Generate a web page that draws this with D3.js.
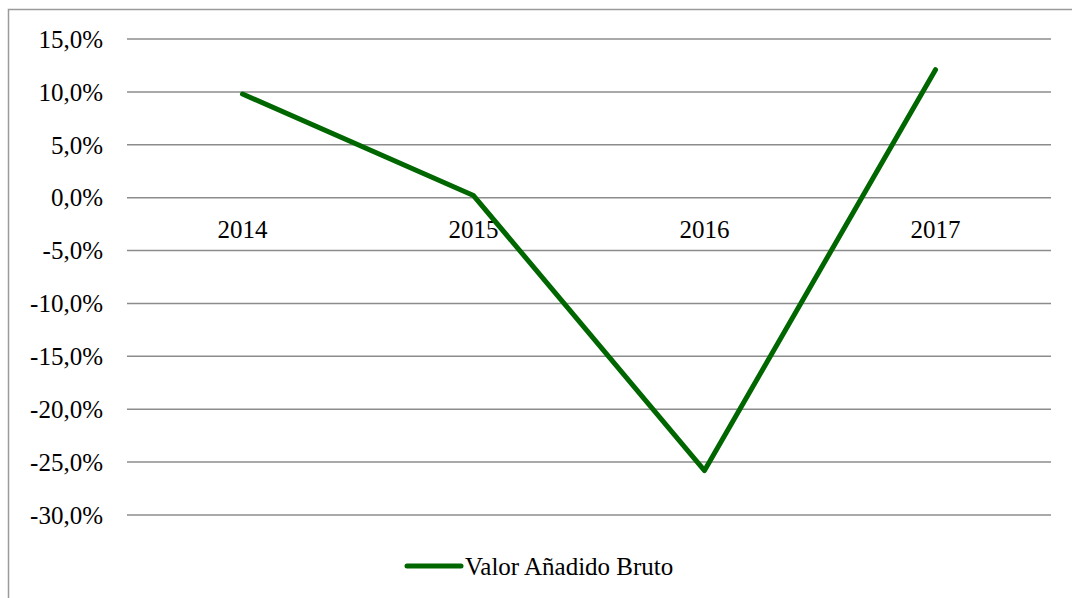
<!DOCTYPE html>
<html>
<head>
<meta charset="utf-8">
<script src="https://d3js.org/d3.v7.min.js"></script>
<style>
  body { margin: 0; background: #fff; }
</style>
</head>
<body>
<svg width="1072" height="598"></svg>
<script>
// data
var years = ["2014", "2015", "2016", "2017"];
var vab = [9.8, 0.2, -25.8, 12.1];
var yTicks = [15, 10, 5, 0, -5, -10, -15, -20, -25, -30];
var seriesName = "Valor Añadido Bruto";

var serif = "'Liberation Serif'";
var fs = 25;

var svg = d3.select("svg");

// outer chart frame
svg.append("rect")
    .attr("x", 8.5).attr("y", 9.5)
    .attr("width", 1100).attr("height", 700)
    .attr("fill", "none")
    .attr("stroke", "#9a9a9a")
    .attr("stroke-width", 1.5);

var x = d3.scaleBand()
    .domain(years)
    .range([127, 1051]);

var y = d3.scaleLinear()
    .domain([-30, 15])
    .range([515, 39]);

var fmt = function(d) { return d.toFixed(1).replace(".", ",") + "%"; };

// gridlines
svg.append("g")
  .selectAll("line")
  .data(yTicks)
  .enter().append("line")
    .attr("x1", x.range()[0])
    .attr("x2", x.range()[1])
    .attr("y1", function(d) { return y(d); })
    .attr("y2", function(d) { return y(d); })
    .attr("stroke", "#8c8c8c")
    .attr("stroke-width", 1.5);

// y labels
svg.append("g")
  .selectAll("text")
  .data(yTicks)
  .enter().append("text")
    .attr("x", 103)
    .attr("y", function(d) { return y(d); })
    .attr("dy", "0.35em")
    .attr("text-anchor", "end")
    .style("font-family", serif)
    .style("font-size", fs + "px")
    .text(fmt);

// category labels sit just under the zero line
svg.append("g")
  .selectAll("text")
  .data(years)
  .enter().append("text")
    .attr("x", function(d) { return x(d) + x.bandwidth() / 2; })
    .attr("y", y(0) + 40)
    .attr("text-anchor", "middle")
    .style("font-family", serif)
    .style("font-size", fs + "px")
    .text(function(d) { return d; });

var line = d3.line()
    .x(function(d, i) { return x(years[i]) + x.bandwidth() / 2; })
    .y(function(d) { return y(d); });

svg.append("path")
    .datum(vab)
    .attr("d", line)
    .attr("fill", "none")
    .attr("stroke", "#006600")
    .attr("stroke-width", 5)
    .attr("stroke-linecap", "round")
    .attr("stroke-linejoin", "round");

// legend
var legend = svg.append("g").attr("transform", "translate(407,566)");
legend.append("line")
    .attr("x1", 0).attr("x2", 54)
    .attr("stroke", "#006600")
    .attr("stroke-width", 5)
    .attr("stroke-linecap", "round");
legend.append("text")
    .attr("x", 58)
    .attr("dy", "0.35em")
    .style("font-family", serif)
    .style("font-size", fs + "px")
    .text(seriesName);
</script>
</body>
</html>
